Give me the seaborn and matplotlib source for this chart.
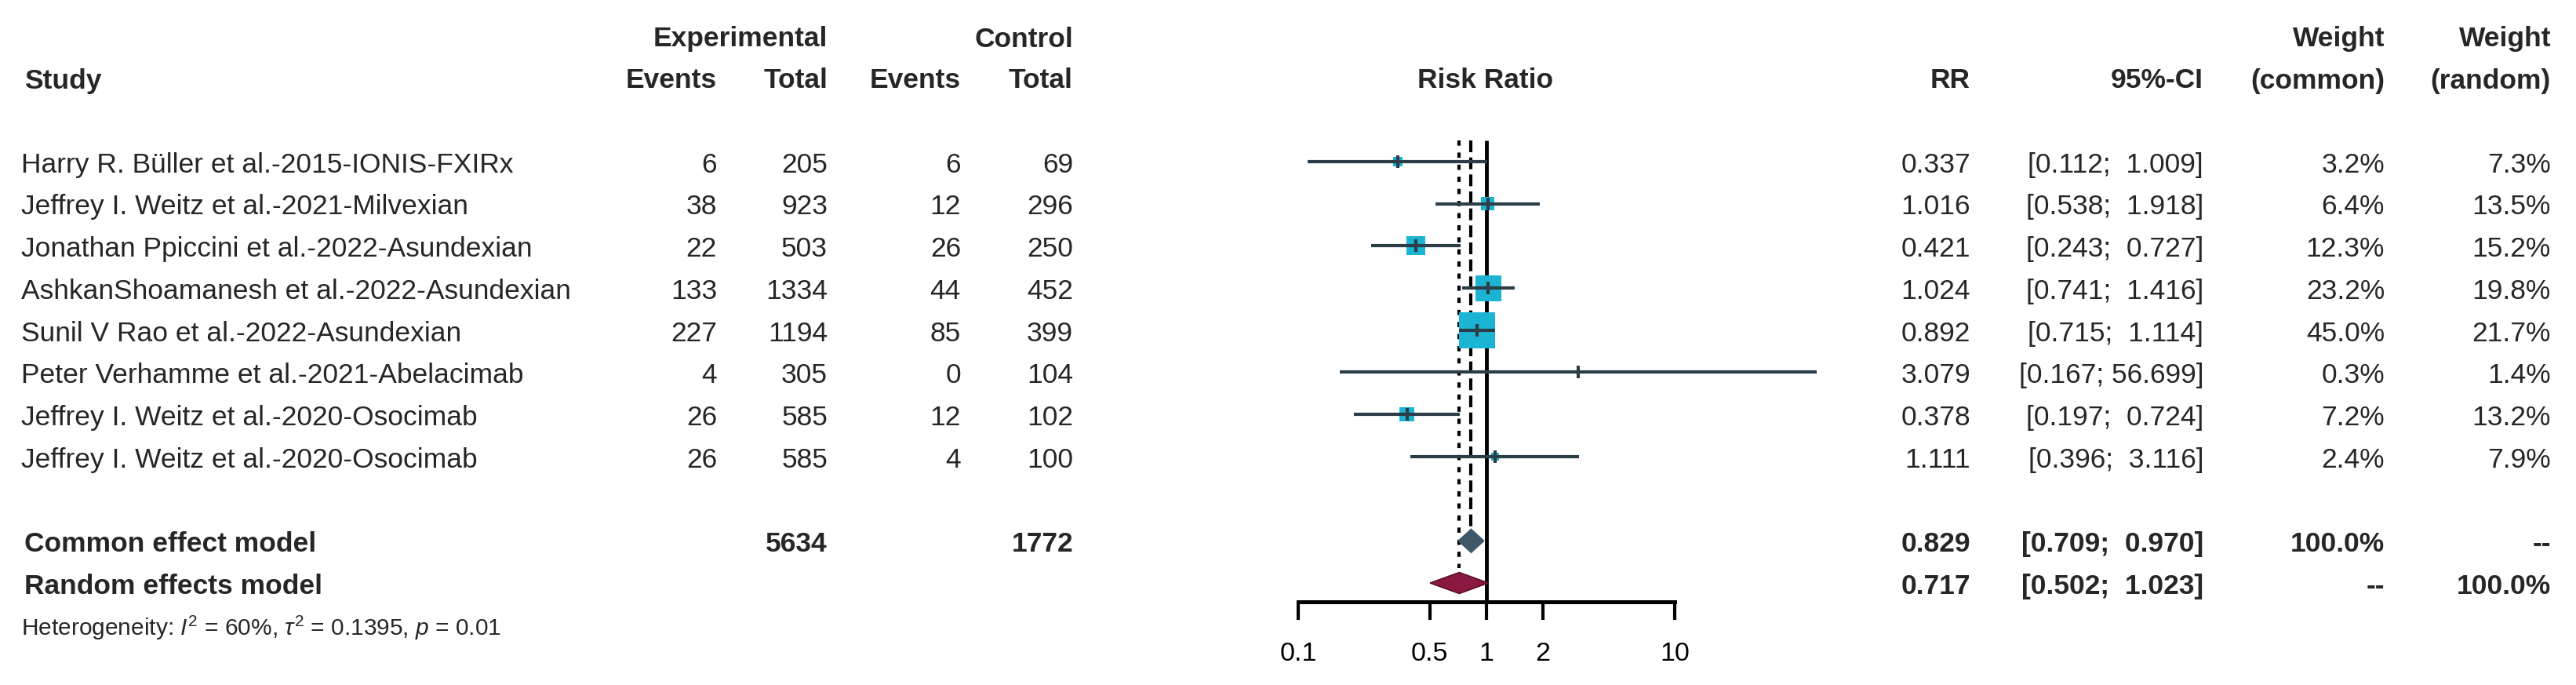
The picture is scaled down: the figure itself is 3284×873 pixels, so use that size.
import numpy as np
import pandas as pd
import matplotlib
matplotlib.use("Agg")
import matplotlib.pyplot as plt
import matplotlib.transforms as mtransforms
import seaborn as sns

# study level data
studies = [
    "Harry R. Büller et al.-2015-IONIS-FXIRx",
    "Jeffrey I. Weitz et al.-2021-Milvexian",
    "Jonathan Ppiccini et al.-2022-Asundexian",
    "AshkanShoamanesh et al.-2022-Asundexian",
    "Sunil V Rao et al.-2022-Asundexian",
    "Peter Verhamme et al.-2021-Abelacimab",
    "Jeffrey I. Weitz et al.-2020-Osocimab",
    "Jeffrey I. Weitz et al.-2020-Osocimab",
]
exp_events = [6, 38, 22, 133, 227, 4, 26, 26]
exp_total = [205, 923, 503, 1334, 1194, 305, 585, 585]
ctrl_events = [6, 12, 26, 44, 85, 0, 12, 4]
ctrl_total = [69, 296, 250, 452, 399, 104, 102, 100]
rr = [0.337, 1.016, 0.421, 1.024, 0.892, 3.079, 0.378, 1.111]
ci_lo = [0.112, 0.538, 0.243, 0.741, 0.715, 0.167, 0.197, 0.396]
ci_hi = [1.009, 1.918, 0.727, 1.416, 1.114, 56.699, 0.724, 3.116]
w_common = [3.2, 6.4, 12.3, 23.2, 45.0, 0.3, 7.2, 2.4]
w_random = [7.3, 13.5, 15.2, 19.8, 21.7, 1.4, 13.2, 7.9]

# pooled estimates
common_rr, common_lo, common_hi = 0.829, 0.709, 0.970
random_rr, random_lo, random_hi = 0.717, 0.502, 1.023
common_total_exp, common_total_ctrl = 5634, 1772
x_ticks = [0.1, 0.5, 1, 2, 10]
x_tick_labels = ["0.1", "0.5", "1", "2", "10"]
heterogeneity = r"Heterogeneity: $I^2$ = 60%, $\tau^2$ = 0.1395, $p$ = 0.01"

df = pd.DataFrame({"study": studies, "rr": rr, "lo": ci_lo, "hi": ci_hi,
                   "w": w_common, "row": np.arange(len(studies))})

sns.set_theme(style="white")
plt.rcParams["font.family"] = ["Liberation Sans", "DejaVu Sans"]
plt.rcParams["mathtext.fontset"] = "custom"
plt.rcParams["mathtext.rm"] = "Liberation Sans"
plt.rcParams["mathtext.it"] = "Liberation Sans:italic"

W, H = 3284, 873
fig = plt.figure(figsize=(W / 100, H / 100), dpi=100)

# background axes in pixel units for the table text
tab = fig.add_axes([0, 0, 1, 1])
tab.set_xlim(0, W)
tab.set_ylim(H, 0)
tab.axis("off")

# forest panel: row 0 sits at y=206 px, rows are 53.7 px apart
row0, rstep = 206, 53.7
y_top, y_bot = -0.6, 10.45
ax_left, ax_right = 1583, 2375
ax = fig.add_axes([ax_left / W, (H - (row0 + y_bot * rstep)) / H,
                   (ax_right - ax_left) / W, (y_bot - y_top) * rstep / H])
ax.set_xscale("log")
ax.set_xlim(10 ** -1.3, 10 ** 2.0)
ax.set_ylim(y_bot, y_top)
ax.patch.set_alpha(0)

sq_color = "#1cb4d3"
ln_color = "#2b3e48"

# reference lines
ax.vlines(1, -0.5, y_bot, color="black", lw=3.5, zorder=1)
ax.vlines(random_rr, -0.5, 9.65, color="black", lw=3.0, linestyles=(0, (1.6, 2.1)), zorder=1)
ax.vlines(common_rr, -0.5, 8.68, color="black", lw=3.0, linestyles=(0, (3.6, 1.6)), zorder=1)

# squares sized by common-effect weight
sns.scatterplot(data=df, x="rr", y="row", size="w", sizes=(0, 1090), size_norm=(0, 45),
                marker="s", color=sq_color, linewidth=0, legend=False, ax=ax, zorder=2)
ax.hlines(df["row"], df["lo"], df["hi"], color=ln_color, lw=3.0, zorder=3, clip_on=False)
sns.scatterplot(data=df, x="rr", y="row", marker="|", s=120, color=ln_color,
                linewidth=3.0, legend=False, ax=ax, zorder=4)

# pooled diamonds
ax.fill([common_lo, common_rr, common_hi, common_rr], [9, 8.72, 9, 9.28],
        color="#3f5868", zorder=3)
ax.fill([random_lo, random_rr, random_hi, random_rr], [10, 9.75, 10, 10.25],
        facecolor="#8b1840", edgecolor="#5a0f28", lw=1.2, zorder=3)

sns.despine(ax=ax, left=True, top=True, right=True)
ax.spines["bottom"].set_bounds(0.1, 10)
ax.spines["bottom"].set_linewidth(3.6)
ax.spines["bottom"].set_color("black")
ax.set_xticks(x_ticks)
ax.set_xticklabels(x_tick_labels)
ax.xaxis.set_minor_locator(matplotlib.ticker.NullLocator())
ax.tick_params(axis="x", bottom=True, length=16.5, width=3.0, pad=20,
               labelsize=24.5, color="black", labelcolor="black")
ax.set_yticks([])
ax.set_xlabel("")
ax.set_ylabel("")

# table text
fs = 25.5
rowtrans = mtransforms.blended_transform_factory(tab.transData, ax.transData)
dy = 0.08

tab.text(31, 103, "Study", fontsize=fs, fontweight="bold", va="center", ha="left")
tab.text(1055, 50, "Experimental", fontsize=fs, fontweight="bold", va="center", ha="right")
tab.text(1368, 50, "Control", fontsize=fs, fontweight="bold", va="center", ha="right")
for xr, lab in [(914, "Events"), (1055, "Total"), (1225, "Events"), (1368, "Total"),
                (2512, "RR"), (2809, "95%-CI"), (3040, "(common)"), (3252, "(random)")]:
    tab.text(xr, 103, lab, fontsize=fs, fontweight="bold", va="center", ha="right")
tab.text(3040, 50, "Weight", fontsize=fs, fontweight="bold", va="center", ha="right")
tab.text(3252, 50, "Weight", fontsize=fs, fontweight="bold", va="center", ha="right")
tab.text(1894, 103, "Risk Ratio", fontsize=fs, fontweight="bold", va="center", ha="center")

for i, name in enumerate(studies):
    y = i + dy
    cells = [(914, str(exp_events[i])), (1055, str(exp_total[i])),
             (1225, str(ctrl_events[i])), (1368, str(ctrl_total[i])),
             (2512, f"{rr[i]:.3f}"), (2809, f"[{ci_lo[i]:.3f}; {ci_hi[i]:6.3f}]"),
             (3040, f"{w_common[i]:.1f}%"), (3252, f"{w_random[i]:.1f}%")]
    tab.text(27, y, name, fontsize=fs, va="center", ha="left", transform=rowtrans)
    for xr, s in cells:
        tab.text(xr, y, s, fontsize=fs, va="center", ha="right", transform=rowtrans)

summary = [
    (9, "Common effect model", str(common_total_exp), str(common_total_ctrl),
     common_rr, common_lo, common_hi, "100.0%", "--"),
    (10, "Random effects model", "", "", random_rr, random_lo, random_hi, "--", "100.0%"),
]
for yrow, name, te, tc, est, lo, hi, wc, wr in summary:
    y = yrow + dy
    tab.text(31, y, name, fontsize=fs, fontweight="bold", va="center", ha="left", transform=rowtrans)
    for xr, s in [(1055, te), (1368, tc), (2512, f"{est:.3f}"),
                  (2809, f"[{lo:.3f}; {hi:6.3f}]"), (3040, wc), (3252, wr)]:
        tab.text(xr, y, s, fontsize=fs, fontweight="bold", va="center", ha="right",
                 transform=rowtrans)

tab.text(27, 800, heterogeneity, fontsize=21.5, va="center", ha="left")

fig.savefig("out.png", dpi=100)
